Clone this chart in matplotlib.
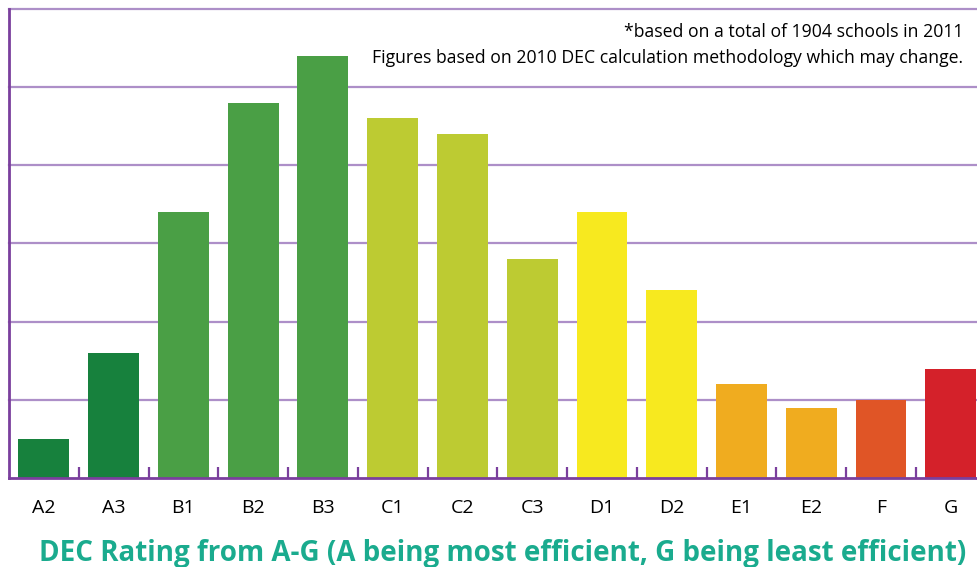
import numpy as np
import matplotlib.pyplot as plt

# DEC ratings and number of schools (2011)
ratings = ['A2', 'A3', 'B1', 'B2', 'B3', 'C1', 'C2', 'C3', 'D1', 'D2', 'E1', 'E2', 'F', 'G']
schools = [25, 80, 170, 240, 270, 230, 220, 140, 170, 120, 60, 45, 50, 70]
bar_colors = ['#17813d', '#17813d', '#4a9f45', '#4a9f45', '#4a9f45',
              '#bdcb32', '#bdcb32', '#bdcb32', '#f7e91f', '#f7e91f',
              '#f0ac1f', '#f0ac1f', '#e05526', '#d4212a']
grid_vals = [50, 100, 150, 200, 250, 300]

grid_col = '#ad8fc8'
axis_col = '#7a3f9d'
font_name = 'Open Sans'

fig = plt.figure(figsize=(9.78, 5.67), dpi=100)
ax = fig.add_axes([9 / 978, 89 / 567, 969 / 978, 469 / 567])

x = np.arange(len(ratings))
ax.bar(x, schools, width=0.73, color=bar_colors, zorder=3)

ax.set_xlim(-0.5, 13.39)
ax.set_ylim(0, 300)

for g in grid_vals:
    ax.axhline(g, color=grid_col, lw=1.6, zorder=1, clip_on=False)

for s in ['top', 'right']:
    ax.spines[s].set_visible(False)
for s in ['left', 'bottom']:
    ax.spines[s].set_color(axis_col)
    ax.spines[s].set_linewidth(2)
    ax.spines[s].set_zorder(4)

ax.set_yticks([])
ax.set_xticks(x)
ax.set_xticklabels(ratings, fontsize=14, fontname=font_name)
ax.tick_params(axis='x', which='major', length=0, pad=15)
ax.set_xticks(x[:-1] + 0.5, minor=True)
ax.tick_params(axis='x', which='minor', direction='in', length=8,
               width=1.6, color=axis_col)

ax.text(0.985, 0.97, '*based on a total of 1904 schools in 2011\n'
        'Figures based on 2010 DEC calculation methodology which may change.',
        transform=ax.transAxes, ha='right', va='top', fontsize=12.7,
        fontname=font_name, linespacing=1.6, zorder=5)

fig.text(503 / 978, 14 / 567,
         'DEC Rating from A-G (A being most efficient, G being least efficient)',
         ha='center', va='center', fontsize=20, fontweight='bold',
         fontname=font_name, color='#1aab8e')

plt.savefig('out.png', dpi=100)
